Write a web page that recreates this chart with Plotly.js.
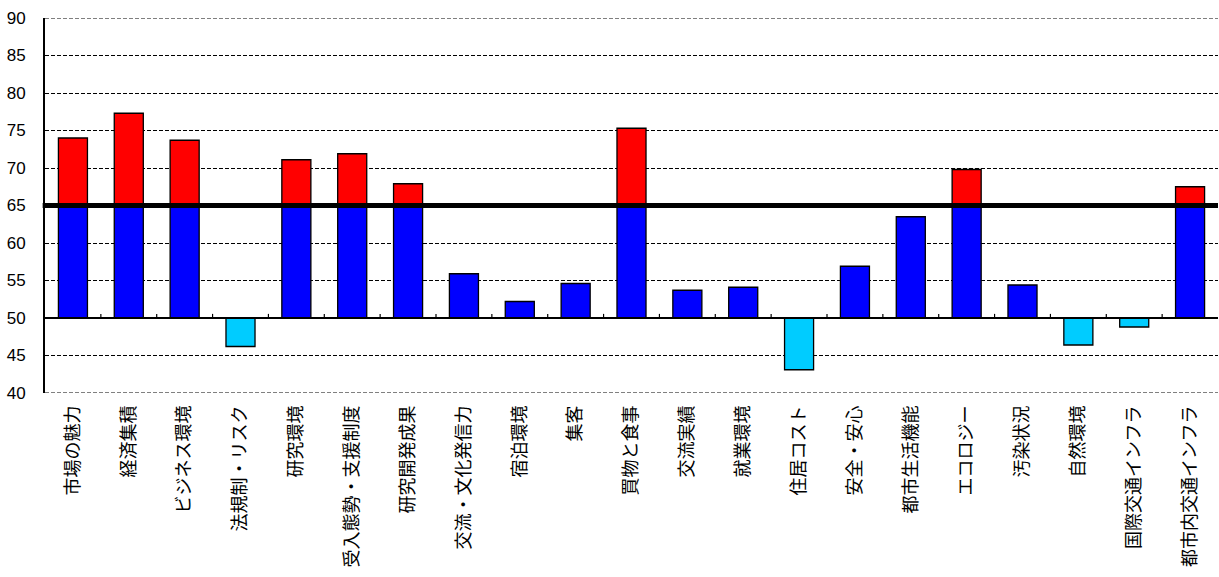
<!DOCTYPE html>
<html><head><meta charset="utf-8">
<script src="https://cdn.plot.ly/plotly-3.0.1.min.js"></script>
<style>html,body{margin:0;padding:0;background:#fff}#c{width:1219px;height:577px}</style>
</head><body><div id="c"></div>
<script>
const categories = ["市場の魅力","経済集積","ビジネス環境","法規制・リスク","研究環境","受入態勢・支援制度","研究開発成果","交流・文化発信力","宿泊環境","集客","買物と食事","交流実績","就業環境","住居コスト","安全・安心","都市生活機能","エコロジー","汚染状況","自然環境","国際交通インフラ","都市内交通インフラ"];
const values = [74.0,77.3,73.7,46.2,71.1,71.9,67.9,55.9,52.2,54.6,75.3,53.7,54.1,43.1,56.9,63.5,69.8,54.4,46.4,48.8,67.5];
const baseLine = 50;
const threshold = 65;
const yTicks = [40,45,50,55,60,65,70,75,80,85,90];

const blueY = values.map(v => v > baseLine ? Math.min(v, threshold) - baseLine : null);
const redY = values.map(v => v > threshold ? v - threshold : null);
const cyanY = values.map(v => v < baseLine ? baseLine - v : null);
const cyanBase = values.map(v => v < baseLine ? v : null);

const outline = {color:'#000', width:1.3};
const common = {type:'bar', x:categories, width:0.52, hoverinfo:'skip'};
const traces = [
  Object.assign({}, common, {y:blueY, base:baseLine, marker:{color:'#0000FF', line:outline}}),
  Object.assign({}, common, {y:redY, base:threshold, marker:{color:'#FF0000', line:outline}}),
  Object.assign({}, common, {y:cyanY, base:cyanBase, marker:{color:'#00CCFF', line:outline}})
];

const shapes = [];
[yTicks[0], yTicks[yTicks.length-1]].forEach(t => {
  shapes.push({type:'line', xref:'paper', yref:'y', x0:0, x1:1, y0:t, y1:t, line:{color:'#000', width:1, dash:'4px,2px'}, layer:'below'});
});
shapes.push({type:'line', xref:'paper', yref:'y', x0:-0.002, x1:1, y0:threshold, y1:threshold, line:{color:'#000', width:5}, layer:'above'});
shapes.push({type:'line', xref:'paper', yref:'y', x0:0, x1:1, y0:baseLine, y1:baseLine, line:{color:'#000', width:2}, layer:'above'});
for (let i = 1; i < categories.length; i++) {
  shapes.push({type:'line', xref:'x', yref:'y', x0:i-0.5, x1:i-0.5, y0:baseLine, y1:baseLine+0.55, line:{color:'#000', width:1.2}, layer:'above'});
}

const layout = {
  width:1219, height:577,
  margin:{l:45, r:1, t:18, b:184},
  paper_bgcolor:'#fff', plot_bgcolor:'#fff',
  barmode:'overlay',
  showlegend:false,
  font:{family:'"Noto Sans CJK JP", "Liberation Sans", sans-serif', color:'#000', size:15},
  xaxis:{type:'category', tickangle:-90, showgrid:false, showline:false, ticks:'', zeroline:false,
         tickfont:{size:18, family:'"Noto Sans CJK JP", sans-serif', color:'#000'}, ticklabelstandoff:8,
         range:[-0.5, categories.length-0.5], fixedrange:true},
  yaxis:{range:[40,90], tickvals:yTicks, ticktext:yTicks.map(String), showgrid:true, gridcolor:'#000', griddash:'4px,2px', gridwidth:1,
         showline:true, linecolor:'#000', linewidth:2, ticks:'', zeroline:false,
         tickfont:{size:17, family:'"Liberation Sans", sans-serif', color:'#000'}, ticklabelstandoff:14, fixedrange:true},
  shapes:shapes
};
Plotly.newPlot('c', traces, layout, {displayModeBar:false, staticPlot:true});
</script></body></html>
